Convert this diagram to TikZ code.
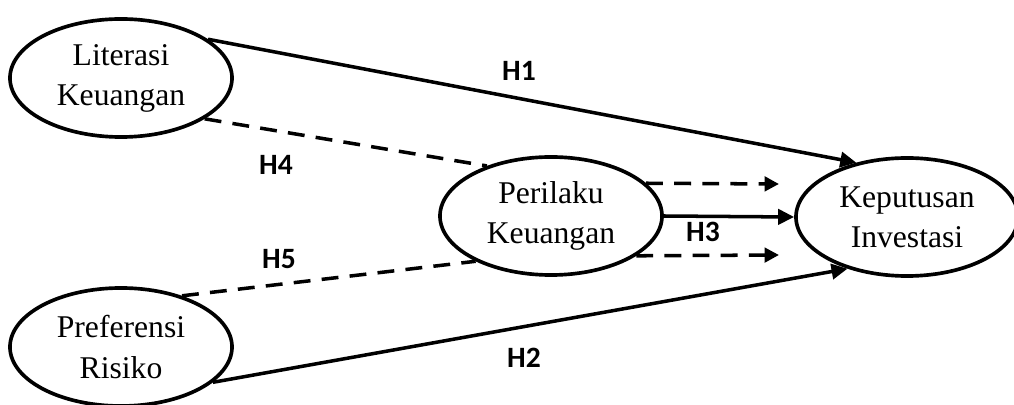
\documentclass[tikz,border=0pt]{standalone}
\usepackage{fontspec}
\setmainfont{Liberation Serif}
\newfontfamily\labelfont{Carlito}
\usetikzlibrary{arrows.meta,shapes.geometric}

\begin{document}
\begin{tikzpicture}[x=0.025cm, y=-0.025cm]

\tikzstyle{var} = [ellipse, draw=black, line width=2.6pt, minimum width=5.55cm, minimum height=2.95cm, align=center, font=\fontsize{22.5}{28.5}\selectfont, inner sep=0pt]
\tikzstyle{hyp} = [font=\labelfont\bfseries\fontsize{21}{24}\selectfont]
\tikzstyle{path} = [line width=2.5pt, -{Triangle[length=0.4cm, width=0.38cm]}]
\tikzstyle{link} = [line width=2.5pt, dash pattern=on 12pt off 8pt]

\useasboundingbox (0, 0) rectangle (1014, 405);

\node[var] (lit) at (121, 78) {Literasi\\Keuangan};
\node[var] (per) at (551, 216) {Perilaku\\Keuangan};
\node[var] (pre) at (121, 347) {Preferensi\\Risiko};
\node[var] (kep) at (907, 217) {Keputusan\\Investasi};

\coordinate (up) at (779, 184);
\coordinate (down) at (779, 255);

\draw[path] (lit.24) -- (kep.133);
\draw[path] (pre.-21) -- (kep.221);
\draw[path] (per.east) -- (kep.west);
\draw[link] (lit.-26) -- (per.142);
\draw[link] (pre.40) -- (per.211);
\draw[link, -{Triangle[length=0.36cm, width=0.36cm]}] (per.19) -- (up);
\draw[link, -{Triangle[length=0.36cm, width=0.36cm]}] (per.-25) -- (down);

\node[hyp] at (519, 71) {H1};
\node[hyp] at (276, 165) {H4};
\node[hyp] at (279, 259) {H5};
\node[hyp] at (703, 232) {H3};
\node[hyp] at (524, 358) {H2};

\end{tikzpicture}
\end{document}
